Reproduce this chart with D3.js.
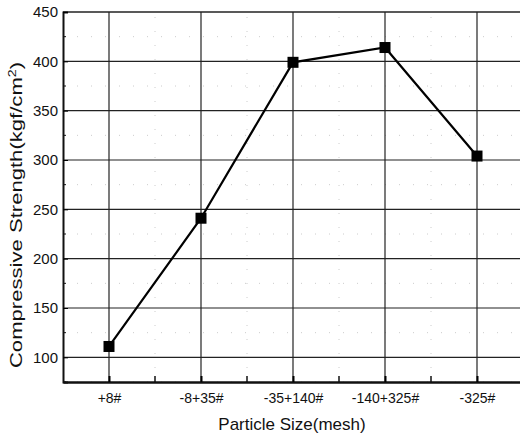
<!DOCTYPE html>
<html>
<head>
<meta charset="utf-8">
<script src="https://cdn.jsdelivr.net/npm/d3@7"></script>
<style>
  body { margin: 0; background: #fff; }
  text { font-family: "Liberation Sans", Arial, sans-serif; fill: #111; }
</style>
</head>
<body>
<div id="chart"></div>
<script>
(function () {
  "use strict";

  const sizes = ["+8#", "-8+35#", "-35+140#", "-140+325#", "-325#"];
  const strength = [111, 241, 399, 414, 304];
  const yTicks = [100, 150, 200, 250, 300, 350, 400, 450];
  const yMinor = [75, 125, 175, 225, 275, 325, 375, 425];

  const width = 520;
  const height = 438;
  const margin = { top: 12, right: -3, bottom: 56, left: 63 };

  const svg = d3
    .select("#chart")
    .append("svg")
    .attr("width", width)
    .attr("height", height);

  const x = d3
    .scalePoint()
    .domain(sizes)
    .range([margin.left, width - margin.right])
    .padding(0.5);

  const y = d3
    .scaleLinear()
    .domain([75, 450])
    .range([height - margin.bottom, margin.top]);

  const step = x.step();
  const xMinor = sizes.slice(0, -1).map((d) => x(d) + step / 2);

  // faint dotted minor grid (scan-like)
  svg
    .append("g")
    .selectAll("line")
    .data(yMinor)
    .join("line")
    .attr("x1", margin.left)
    .attr("x2", width)
    .attr("y1", (d) => y(d))
    .attr("y2", (d) => y(d))
    .attr("stroke", "#ccc")
    .attr("stroke-width", 1)
    .attr("stroke-dasharray", "1,13");

  svg
    .append("g")
    .selectAll("line")
    .data(xMinor)
    .join("line")
    .attr("x1", (d) => d)
    .attr("x2", (d) => d)
    .attr("y1", y(75))
    .attr("y2", y(450))
    .attr("stroke", "#ccc")
    .attr("stroke-width", 1)
    .attr("stroke-dasharray", "1,13");

  // major grid
  svg
    .append("g")
    .selectAll("line")
    .data(yTicks)
    .join("line")
    .attr("x1", margin.left)
    .attr("x2", width)
    .attr("y1", (d) => y(d))
    .attr("y2", (d) => y(d))
    .attr("stroke", "#222")
    .attr("stroke-width", (d) => (d === 450 ? 1.6 : 1.2));

  svg
    .append("g")
    .selectAll("line")
    .data(sizes)
    .join("line")
    .attr("x1", (d) => x(d))
    .attr("x2", (d) => x(d))
    .attr("y1", y(75))
    .attr("y2", y(450))
    .attr("stroke", "#222")
    .attr("stroke-width", 1.2);

  // axes, ticks inside
  const yAxis = svg
    .append("g")
    .attr("transform", `translate(${margin.left},0)`)
    .call(d3.axisLeft(y).tickValues(yTicks).tickSize(-5).tickPadding(5));
  yAxis.select(".domain").attr("stroke-width", 2).attr("stroke", "#111");
  yAxis.selectAll("text").attr("font-size", 15);

  svg
    .append("g")
    .selectAll("line")
    .data(yMinor)
    .join("line")
    .attr("x1", margin.left)
    .attr("x2", margin.left + 3)
    .attr("y1", (d) => y(d))
    .attr("y2", (d) => y(d))
    .attr("stroke", "#111");

  const xAxis = svg
    .append("g")
    .attr("transform", `translate(0,${y(75)})`)
    .call(d3.axisBottom(x).tickSize(-6).tickPadding(11).tickSizeOuter(0));
  xAxis.select(".domain").attr("stroke-width", 2.5).attr("stroke", "#111");
  xAxis.selectAll(".tick line").attr("stroke-width", 2);
  xAxis.selectAll("text").attr("font-size", 14);

  svg
    .append("g")
    .selectAll("line")
    .data(xMinor)
    .join("line")
    .attr("x1", (d) => d)
    .attr("x2", (d) => d)
    .attr("y1", y(75))
    .attr("y2", y(75) - 6)
    .attr("stroke", "#111")
    .attr("stroke-width", 1.5);

  // data line + square markers
  const line = d3
    .line()
    .x((d, i) => x(sizes[i]))
    .y((d) => y(d));

  svg
    .append("path")
    .datum(strength)
    .attr("d", line)
    .attr("fill", "none")
    .attr("stroke", "#000")
    .attr("stroke-width", 2.2);

  const sq = 11;
  svg
    .append("g")
    .selectAll("rect")
    .data(strength)
    .join("rect")
    .attr("x", (d, i) => x(sizes[i]) - sq / 2)
    .attr("y", (d) => y(d) - sq / 2)
    .attr("width", sq)
    .attr("height", sq)
    .attr("fill", "#000");

  // axis titles
  svg
    .append("text")
    .attr("x", 292)
    .attr("y", 430)
    .attr("text-anchor", "middle")
    .style("font-size", "17px")
    .text("Particle Size(mesh)");

  // the scanned title is stretched along its length
  const yTitle = svg
    .append("text")
    .attr("transform", `translate(22,215) rotate(-90) scale(1.3,1)`)
    .attr("text-anchor", "middle")
    .style("font-size", "17px");
  yTitle.append("tspan").text("Compressive Strength(kgf/cm");
  yTitle.append("tspan").attr("dy", -6).style("font-size", "11px").text("2");
  yTitle.append("tspan").attr("dy", 6).text(")");
})();
</script>
</body>
</html>
